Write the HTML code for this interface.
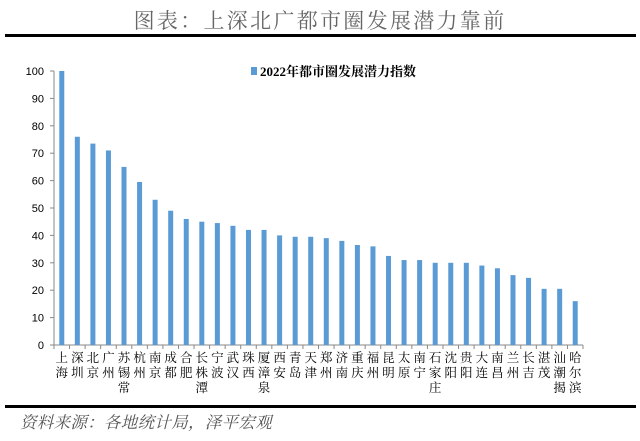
<!DOCTYPE html>
<html><head><meta charset="utf-8"><style>
body{margin:0;background:#fff;width:640px;height:436px;overflow:hidden;font-family:"Liberation Sans","Noto Sans CJK SC",sans-serif}
</style></head><body>
<svg id="c" width="640" height="436" xmlns="http://www.w3.org/2000/svg">
<text x="320" y="28" text-anchor="middle" font-size="21" fill="#666" font-family="'Noto Serif CJK SC',serif" letter-spacing="2.3">图表：上深北广都市圈发展潜力靠前</text>
<rect x="5" y="34" width="631" height="3" fill="#000"/>
<rect x="5" y="405" width="631" height="3" fill="#000"/>
<text x="20" y="428" font-size="16.5" fill="#555" font-style="italic" font-family="'Noto Serif CJK SC',serif" letter-spacing="0.3">资料来源：各地统计局，泽平宏观</text>
<g>
<rect x="251" y="67" width="6" height="8" fill="#5b9bd5"/>
<text x="260" y="76" font-size="13" font-weight="bold" fill="#000" font-family="'Liberation Serif','Noto Serif CJK SC',serif">2022年都市圈发展潜力指数</text>
</g>
<g id="plot"></g>
</svg>
<script>
const categories=["上海","深圳","北京","广州","苏锡常","杭州","南京","成都","合肥","长株潭","宁波","武汉","珠西","厦漳泉","西安","青岛","天津","郑州","济南","重庆","福州","昆明","太原","南宁","石家庄","沈阳","贵阳","大连","南昌","兰州","长吉","湛茂","汕潮揭","哈尔滨"];
const values=[100,76,73.5,71,65,59.5,53,49,46,45,44.5,43.5,42,42,40,39.5,39.5,39,38,36.5,36,32.5,31,31,30,30,30,29,28,25.5,24.5,20.5,20.5,16];
const yTicks=[0,10,20,30,40,50,60,70,80,90,100];
const NS="http://www.w3.org/2000/svg";
const g=document.getElementById("plot");
const x0=54,x1=583,y0=345,y1=71,yMax=100;
const step=(x1-x0)/categories.length;
const y=v=>y0-(v/yMax)*(y0-y1);
const xc=i=>x0+step*(i+0.5);
function mk(t,a){const e=document.createElementNS(NS,t);for(const k in a)e.setAttribute(k,a[k]);g.appendChild(e);return e;}
let ax=mk("line",{x1:x0,y1:y1,x2:x0,y2:y0,stroke:"#888","stroke-width":1});


let bx=mk("line",{x1:x0,y1:y0,x2:x1,y2:y0,stroke:"#888","stroke-width":1});


yTicks.forEach(t=>{
 let tk=mk("line",{x1:x0-4,y1:y(t),x2:x0,y2:y(t),stroke:"#888"});
 
 
 let l=mk("text",{x:x0-10,y:y(t)+4,"text-anchor":"end","font-size":11,fill:"#000"});
 l.textContent=t;
 
 
});
for(let i=0;i<=categories.length;i++){
 let tk=mk("line",{x1:x0+step*i,y1:y0,x2:x0+step*i,y2:y0+4,stroke:"#888"});
 
 
}
categories.forEach((c,i)=>{
 const v=values[i];
 let b=mk("rect",{x:xc(i)-2.5,y:y(v),width:5,height:y0-y(v),fill:"#5b9bd5"});
 
 
 let t=mk("text",{"text-anchor":"middle","font-size":12.5,fill:"#000","font-family":"'Noto Serif CJK SC',serif"});
 
 
 [...c].forEach((ch,k)=>{const s=document.createElementNS(NS,"tspan");s.setAttribute("x",xc(i));s.setAttribute("y",362+k*15);s.textContent=ch;t.appendChild(s);});
});
</script>
</body></html>
